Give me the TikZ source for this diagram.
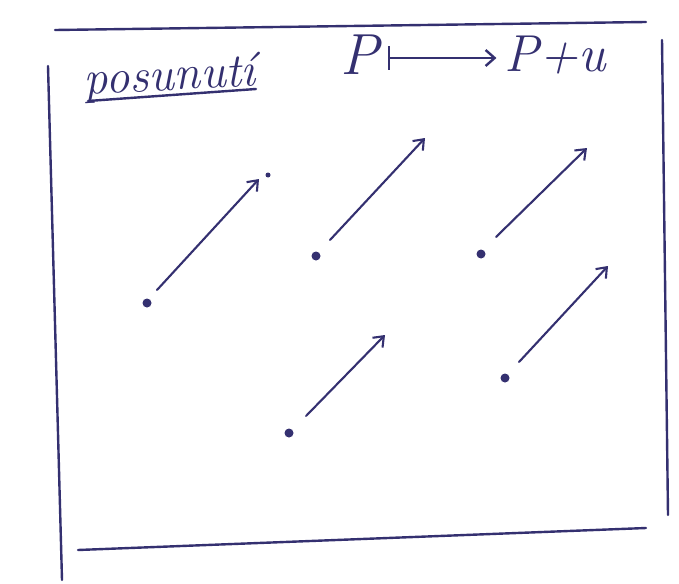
\documentclass[tikz,border=0pt]{standalone}
\usepackage{fontspec}
\usetikzlibrary{arrows.meta}
\definecolor{ink}{RGB}{52,48,112}
\begin{document}
\begin{tikzpicture}[x=1pt,y=-1pt,
  inkline/.style={draw=ink,line width=2.4pt,line cap=round},
  vec/.style={draw=ink,line width=2.1pt,line cap=round,-{Straight Barb[length=9pt,width=14pt]}},
  pt/.style={circle,fill=ink,inner sep=0pt,minimum size=9pt},
  txt/.style={text=ink,inner sep=0pt}]
\useasboundingbox[fill=white] (0,0) rectangle (679,583);
% frame
\coordinate (t1) at (55,30); \coordinate (t2) at (646,22);
\coordinate (l1) at (48,66); \coordinate (l2) at (62,580);
\coordinate (b1) at (78,550); \coordinate (b2) at (646,528);
\coordinate (r1) at (662,40); \coordinate (r2) at (668,515);
\draw[inkline] (t1) -- (t2);
\draw[inkline] (l1) -- (l2);
\draw[inkline] (b1) -- (b2);
\draw[inkline] (r1) -- (r2);
% title
\node[txt,font=\fontsize{48}{48}\selectfont\itshape,rotate=3] (pos) at (170,78) {posunutí};
\coordinate (u1) at (88,101); \coordinate (u2) at (256,89);
\draw[inkline] (u1) -- (u2);
\node[txt,font=\fontsize{58}{58}\selectfont\itshape] (P) at (360,55) {P};
\node[txt,font=\fontsize{52}{52}\selectfont\itshape] (Pu) at (555,55) {P+u};
\coordinate (m1) at (388,58);
\draw[inkline,{Bar[width=24pt]}-{Straight Barb[length=9pt,width=16pt]}] (m1) -- ([xshift=-8pt]Pu.west |- m1);
% points and vectors
\node[pt] (p1) at (147,303) {};
\coordinate (s1) at (157,290); \coordinate (e1) at (259,179);
\draw[vec] (s1) -- (e1);
\node[circle,fill=ink,inner sep=0pt,minimum size=5pt] (q1) at (268,175) {};
\node[pt] (p2) at (316,256) {};
\coordinate (s2) at (330,240); \coordinate (e2) at (425,138);
\draw[vec] (s2) -- (e2);
\node[pt] (p3) at (481,254) {};
\coordinate (s3) at (496,237); \coordinate (e3) at (587,148);
\draw[vec] (s3) -- (e3);
\node[pt] (p4) at (289,433) {};
\coordinate (s4) at (306,416); \coordinate (e4) at (385,335);
\draw[vec] (s4) -- (e4);
\node[pt] (p5) at (505,378) {};
\coordinate (s5) at (519,362); \coordinate (e5) at (608,266);
\draw[vec] (s5) -- (e5);
\end{tikzpicture}
\end{document}
